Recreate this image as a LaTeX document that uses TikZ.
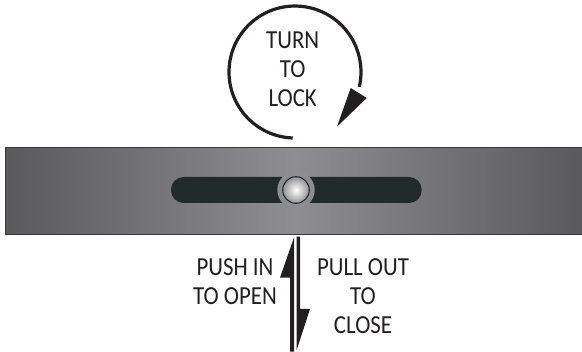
\documentclass[tikz,border=0pt]{standalone}
\usepackage{fontspec}
\setmainfont[FakeStretch=0.88]{Carlito}
\usepackage{tikz}
\definecolor{panelDark}{HTML}{5A5A5C}
\definecolor{panelMid}{HTML}{8E8E92}
\definecolor{panelEdge}{HTML}{38393B}
\definecolor{slotDark}{HTML}{222B2C}
\definecolor{inkDark}{HTML}{231F20}
\tikzset{
    label text/.style={text=inkDark, align=center, inner sep=0pt, font=\fontsize{19.5}{21.75}\selectfont},
    arrow shape/.style={fill=inkDark, draw=none},
}

\begin{document}
\begin{tikzpicture}[x=0.75pt, y=0.75pt]
        \useasboundingbox (0,0) rectangle (582,352);
        % panel
        \shade[left color=panelDark, right color=panelDark, middle color=panelMid] (5.5,204.5) rectangle (582,118);
        \draw[panelEdge, line width=0.6pt] (582,204.5) -- (5.5,204.5) -- (5.5,118) -- (582,118);
        % slot and knob
        \fill[slotDark, rounded corners=9.5pt] (171,175) rectangle (421.7,149);
        \fill[panelMid] (296,162) circle (18.7);
        \shade[inner color=white, outer color=gray!85] (296,162) circle (13.3);
        \draw[slotDark, line width=0.8pt] (296,162) circle (13.3);
        % turn arrow
        \draw[inkDark, line width=2.4pt] (292.7,214) arc[start angle=268, end angle=-13, radius=66];
        \fill[arrow shape] (350.7,264) -- (366.7,254) -- (337,225.3) -- cycle;
        \node[label text] (turn) at (292.7,283) {TURN\\TO\\LOCK};
        % push and pull arrows
        \fill[arrow shape] (294,114.5) -- (280,74.3) -- (290,74.3) -- (290,0.3) -- (294,0.3) -- cycle;
        \fill[arrow shape] (296.7,115.3) -- (300,115.3) -- (300,43) -- (310,43) -- (296.7,2) -- cycle;
        \node[label text] (push) at (235,70) {PUSH IN\\TO OPEN};
        \node[label text] (pull) at (363,56) {PULL OUT\\TO\\CLOSE};
    \end{tikzpicture}
\end{document}
